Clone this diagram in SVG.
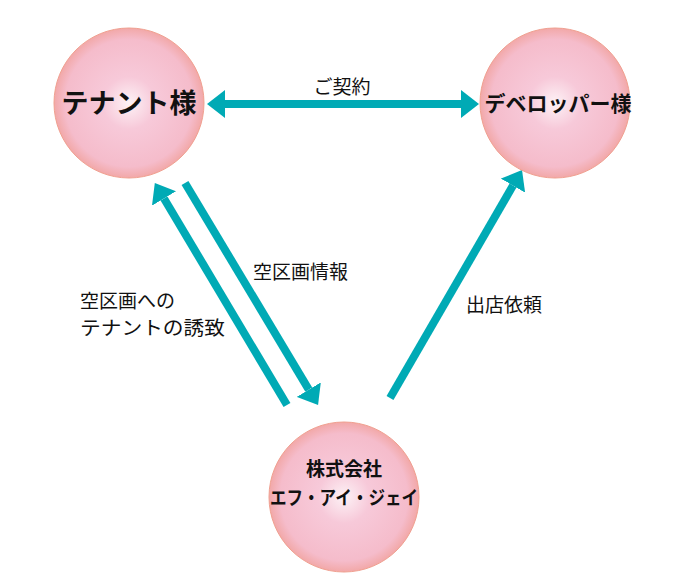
<svg xmlns="http://www.w3.org/2000/svg" width="689" height="584" viewBox="0 0 689 584">
<style>
.c{fill:url(#g);stroke:#f0a090;stroke-width:1}
.n{font-family:"Noto Sans CJK JP",sans-serif;font-weight:bold;fill:#111;text-anchor:middle}
.l{font-family:"Noto Sans CJK JP",sans-serif;font-size:19px;fill:#111}
.a{stroke:#00aab5;stroke-width:8;fill:none;marker-end:url(#h)}
</style>
<defs>
<radialGradient id="g" cx="0.5" cy="0.5" r="0.5">
<stop offset="0" stop-color="#fdf2f6"/>
<stop offset="0.35" stop-color="#f7c9d9"/>
<stop offset="0.85" stop-color="#f5bccb"/>
<stop offset="1" stop-color="#f2a8a8"/>
</radialGradient>
<marker id="h" viewBox="0 0 10 10" refX="0" refY="5" markerWidth="2.25" markerHeight="3.5" orient="auto-start-reverse" preserveAspectRatio="none">
<path d="M0,0 L10,5 L0,10 z" fill="#00aab5"/>
</marker>
</defs>
<rect width="689" height="584" fill="#fff"/>
<g id="connectors">
<line class="a" x1="225" y1="104" x2="461" y2="104" style="marker-start:url(#h)"/>
<line class="a" x1="287" y1="405" x2="164" y2="198.5"/>
<line class="a" x1="185" y1="183" x2="308.8" y2="389.6"/>
<line class="a" x1="390" y1="398" x2="513" y2="185.6"/>
</g>
<g id="tenant"><circle class="c" cx="129" cy="103" r="75"/><text class="n" x="129" y="113" font-size="27">テナント様</text></g>
<g id="developer"><circle class="c" cx="555" cy="103" r="75"/><text class="n" x="558" y="111" font-size="21">デベロッパー様</text></g>
<g id="fij"><circle class="c" cx="344" cy="497" r="75"/><text class="n" x="344" y="476" font-size="19">株式会社</text><text class="n" x="344" y="505" font-size="19" textLength="148" lengthAdjust="spacingAndGlyphs">エフ・アイ・ジェイ</text></g>
<g id="labels">
<text class="l" x="342" y="94" text-anchor="middle">ご契約</text>
<text class="l" x="253" y="279">空区画情報</text>
<text class="l" x="80" y="308">空区画への</text>
<text class="l" x="80" y="335" textLength="145" lengthAdjust="spacingAndGlyphs">テナントの誘致</text>
<text class="l" x="466" y="312">出店依頼</text>
</g>
</svg>
